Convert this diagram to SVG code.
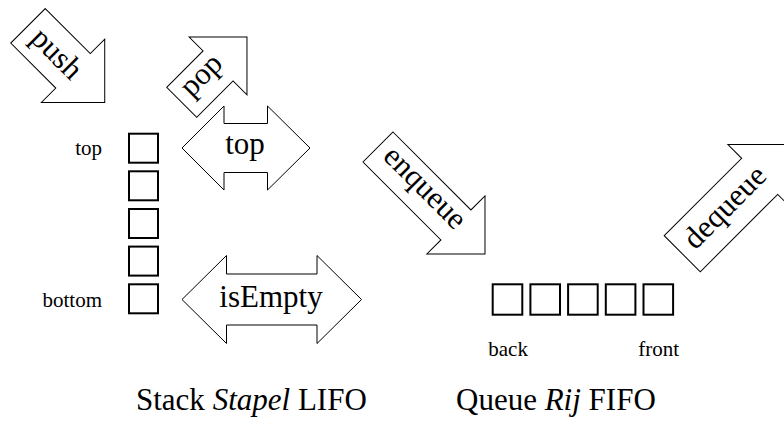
<svg xmlns="http://www.w3.org/2000/svg" width="784" height="430" viewBox="0 0 784 430">
<style>
  .arrow { fill: #fff; stroke: #000; stroke-width: 1; stroke-linejoin: miter; }
  .box { fill: none; stroke: #000; stroke-width: 2; }
  text { font-family: "Liberation Serif", "Times New Roman", serif; fill: #000; }
  .big { font-size: 31px; }
  .small { font-size: 21px; }
  .cap { font-size: 31px; }
</style>
<rect x="0" y="0" width="784" height="430" fill="#fff"/>

<g id="push" transform="translate(28,25.8) rotate(45)">
  <path class="arrow" d="M0,-24.4 H63.7 V-44.8 L108.5,0 L63.7,44.8 V24.4 H0 Z"/>
  <text class="big" x="40" y="9" text-anchor="middle">push</text>
</g>

<g id="pop" transform="translate(181.7,102.3) rotate(-45)">
  <path class="arrow" d="M0,-21.2 H51.4 V-40.9 L92.3,0 L51.4,40.9 V21.2 H0 Z"/>
  <text class="big" x="33" y="4" text-anchor="middle">pop</text>
</g>

<g id="top-op">
  <path class="arrow" d="M182,148 L224,106 V123.5 H267.5 V106 L310,148 L267.5,190 V172.5 H224 V190 Z"/>
  <text class="big" x="245" y="153.5" text-anchor="middle">top</text>
</g>

<g id="isEmpty">
  <path class="arrow" d="M182,299.5 L226.5,255.5 V274 H317 V255.5 L361.5,299.5 L317,343.5 V325 H226.5 V343.5 Z"/>
  <text class="big" x="271" y="306.7" text-anchor="middle">isEmpty</text>
</g>

<g id="stack">
  <rect class="box" x="129" y="133.7" width="29" height="29"/>
  <rect class="box" x="129" y="171.3" width="29" height="29"/>
  <rect class="box" x="129" y="209" width="29" height="29"/>
  <rect class="box" x="129" y="246.6" width="29" height="29"/>
  <rect class="box" x="129" y="284.3" width="29" height="29"/>
  <text class="small" x="102" y="155" text-anchor="end">top</text>
  <text class="small" x="102" y="307.3" text-anchor="end">bottom</text>
</g>

<g id="enqueue" transform="translate(378,147) rotate(45)">
  <path class="arrow" d="M0,-21.2 H110.2 V-41.1 L151.3,0 L110.2,41.1 V21.2 H0 Z"/>
  <text class="big" x="62" y="5" text-anchor="middle">enqueue</text>
</g>

<g id="dequeue" transform="translate(682.25,253.75) rotate(-45)">
  <path class="arrow" d="M0,-25.5 H109.5 V-44.9 L154.4,0 L109.5,44.9 V25.5 H0 Z"/>
  <text class="big" x="63" y="7" text-anchor="middle">dequeue</text>
</g>

<g id="queue">
  <rect class="box" x="492.7" y="284.3" width="29.6" height="30.4"/>
  <rect class="box" x="530.4" y="284.3" width="29.6" height="30.4"/>
  <rect class="box" x="568.1" y="284.3" width="29.6" height="30.4"/>
  <rect class="box" x="605.8" y="284.3" width="29.6" height="30.4"/>
  <rect class="box" x="643.5" y="284.3" width="29.6" height="30.4"/>
  <text class="small" x="488.3" y="355.7">back</text>
  <text class="small" x="638.3" y="355.7">front</text>
</g>

<g id="connectors"></g>

<g id="captions">
  <text class="cap" x="136" y="410">Stack <tspan font-style="italic">Stapel</tspan> LIFO</text>
  <text class="cap" x="456" y="410">Queue <tspan font-style="italic">Rij</tspan> FIFO</text>
</g>
</svg>
